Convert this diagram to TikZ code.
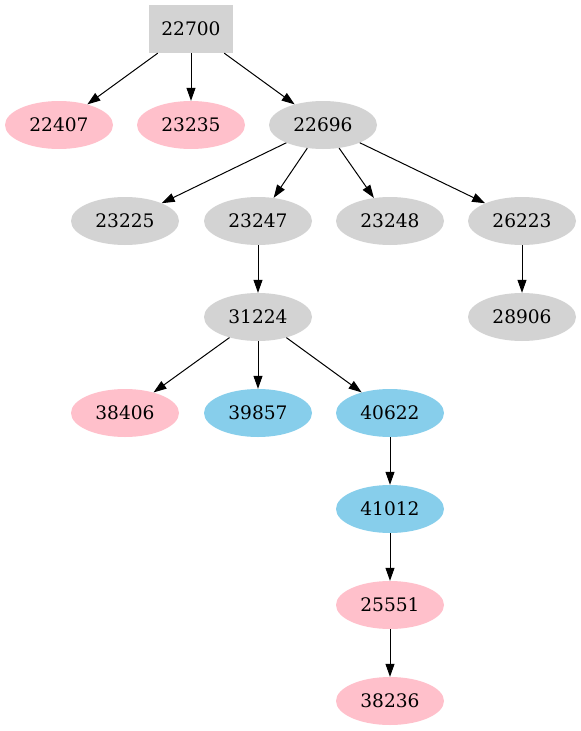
\documentclass[tikz,border=0pt]{standalone}
\usepackage{fontspec}
\setmainfont{DejaVu Serif}
\usetikzlibrary{shapes.geometric,arrows.meta}
\definecolor{gvpink}{HTML}{FFC0CB}
\definecolor{gvgray}{HTML}{D3D3D3}
\definecolor{gvblue}{HTML}{87CEEB}
\begin{document}
\begin{tikzpicture}[x=1pt,y=-1pt,
  every node/.style={font=\fontsize{18.6}{22}\selectfont, inner sep=0pt},
  ell/.style={ellipse, minimum width=108pt, minimum height=48pt},
  pk/.style={ell, fill=gvpink},
  gy/.style={ell, fill=gvgray},
  bl/.style={ell, fill=gvblue},
  box/.style={rectangle, fill=gvgray, minimum width=84pt, minimum height=48pt},
  edge/.style={draw=black, line width=1pt, -{Triangle[length=13pt,width=9pt]}}]
\useasboundingbox (0,0) rectangle (581,731);
\node[box] (n22700) at (191,29) {22700};
\node[pk] (n22407) at (59,125) {22407};
\node[pk] (n23235) at (191,125) {23235};
\node[gy] (n22696) at (323,125) {22696};
\node[gy] (n23225) at (125,221) {23225};
\node[gy] (n23247) at (258,221) {23247};
\node[gy] (n23248) at (390,221) {23248};
\node[gy] (n26223) at (522,221) {26223};
\node[gy] (n31224) at (258,317) {31224};
\node[gy] (n28906) at (522,317) {28906};
\node[pk] (n38406) at (125,413) {38406};
\node[bl] (n39857) at (258,413) {39857};
\node[bl] (n40622) at (390,413) {40622};
\node[bl] (n41012) at (390,509) {41012};
\node[pk] (n25551) at (390,605) {25551};
\node[pk] (n38236) at (390,701) {38236};
\draw[edge] (n22700) -- (n22407);
\draw[edge] (n22700) -- (n23235);
\draw[edge] (n22700) -- (n22696);
\draw[edge] (n22696) -- (n23225);
\draw[edge] (n22696) -- (n23247);
\draw[edge] (n22696) -- (n23248);
\draw[edge] (n22696) -- (n26223);
\draw[edge] (n23247) -- (n31224);
\draw[edge] (n26223) -- (n28906);
\draw[edge] (n31224) -- (n38406);
\draw[edge] (n31224) -- (n39857);
\draw[edge] (n31224) -- (n40622);
\draw[edge] (n40622) -- (n41012);
\draw[edge] (n41012) -- (n25551);
\draw[edge] (n25551) -- (n38236);
\end{tikzpicture}
\end{document}
